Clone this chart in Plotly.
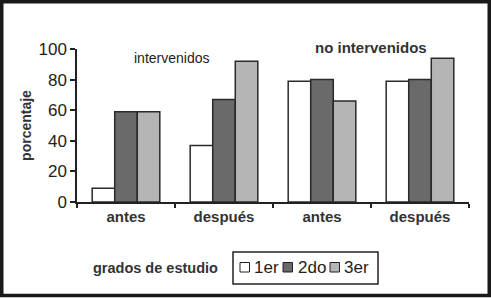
import plotly.graph_objects as go

categories = ["int_antes", "int_despues", "noint_antes", "noint_despues"]
tick_labels = ["antes", "después", "antes", "después"]
series_names = ["1er", "2do", "3er"]
v_1er = [9, 37, 79, 79]
v_2do = [59, 67, 80, 80]
v_3er = [59, 92, 66, 94]
colors = ["#ffffff", "#6a6a6a", "#b5b5b5"]

W, H = 491, 299
L, R, T, B = 77, 22, 49, 97
pw, ph = W - L - R, H - T - B

def px_x(x):
    return (x - L) / pw

def px_y(y):
    return (H - B - y) / ph

fig = go.Figure()
for name, vals, col in zip(series_names, [v_1er, v_2do, v_3er], colors):
    fig.add_trace(go.Bar(
        x=categories, y=vals, name=name,
        marker=dict(color=col, line=dict(color="#2a2a2a", width=1.5)),
    ))

font = "Arial, Liberation Sans, sans-serif"

# manual legend (compact, like the reference)
leg_sq_x = [240, 283, 330]
leg_tx_x = [252, 296, 342]
shapes = [
    dict(type="rect", xref="paper", yref="paper",
         x0=px_x(1.75), x1=px_x(489.25), y0=px_y(295.5), y1=px_y(1.75),
         line=dict(color="#1a1a1a", width=3.5)),
    dict(type="rect", xref="paper", yref="paper",
         x0=px_x(233), x1=px_x(378), y0=px_y(284), y1=px_y(252),
         line=dict(color="#222", width=1.5), fillcolor="white"),
]
annotations = [
    dict(text="intervenidos", xref="paper", yref="paper", x=px_x(172), y=px_y(58),
         xanchor="center", yanchor="middle",
         showarrow=False, font=dict(size=14, family=font, color="#222")),
    dict(text="no intervenidos", xref="paper", yref="paper", x=px_x(371), y=px_y(47),
         xanchor="center", yanchor="middle",
         showarrow=False, font=dict(size=15, family=font, weight="bold", color="#333")),
    dict(text="grados de estudio", xref="paper", yref="paper", x=px_x(220), y=px_y(268),
         xanchor="right", yanchor="middle", showarrow=False,
         font=dict(size=14.5, family=font, weight="bold", color="#333")),
]
for name, col, sx, tx in zip(series_names, colors, leg_sq_x, leg_tx_x):
    shapes.append(dict(type="rect", xref="paper", yref="paper",
                       x0=px_x(sx), x1=px_x(sx + 9.5), y0=px_y(272), y1=px_y(262.5),
                       line=dict(color="#222", width=1), fillcolor=col))
    annotations.append(dict(text=name, xref="paper", yref="paper", x=px_x(tx), y=px_y(267.5),
                            xanchor="left", yanchor="middle", showarrow=False,
                            font=dict(size=17, family=font, color="#222")))

fig.update_layout(
    width=W, height=H,
    margin=dict(l=L, r=R, t=T, b=B, autoexpand=False),
    paper_bgcolor="white", plot_bgcolor="white",
    barmode="group", bargap=0.31, bargroupgap=0,
    font=dict(family=font, color="#222222"),
    showlegend=False,
    xaxis=dict(
        type="category", tickvals=categories, ticktext=tick_labels,
        tickson="boundaries", ticks="outside", ticklen=4, tickwidth=1.5,
        tickcolor="#222", showline=True, linecolor="#222", linewidth=1.5,
        showgrid=False, tickfont=dict(size=15, family=font, weight="bold", color="#333"),
        range=[-0.5, 3.5],
    ),
    yaxis=dict(
        range=[0, 100], tickvals=[0, 20, 40, 60, 80, 100],
        ticks="outside", ticklen=5, tickwidth=1.5, tickcolor="#222",
        showline=True, linecolor="#222", linewidth=1.5, showgrid=False,
        zeroline=False, tickfont=dict(size=17, family=font, color="#222"),
        title=dict(text="porcentaje", standoff=4,
                   font=dict(size=14, family=font, weight="bold", color="#333")),
    ),
    annotations=annotations,
    shapes=shapes,
)

fig.write_html("out.html", config={"displayModeBar": False},
               post_script="document.body.style.margin='0';")
